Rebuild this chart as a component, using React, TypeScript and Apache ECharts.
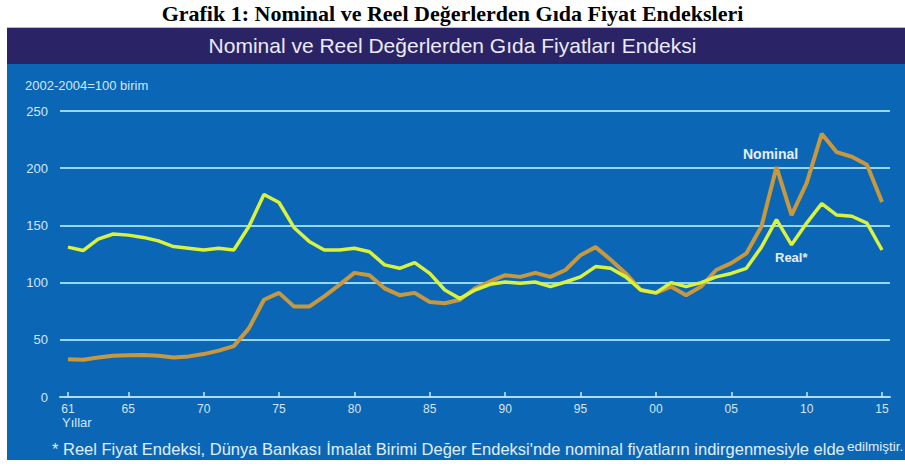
import React, { useEffect, useRef } from "react";
import * as echarts from "echarts";

const years: number[] = [];
for (let y = 1961; y <= 2015; y++) years.push(y);

const nominal = [
  33, 32.5, 34.5, 36, 36.5, 36.7, 36, 34.5, 35.5, 37.5, 40.5, 44.5, 60, 85, 91, 79,
  79, 88, 98, 108.5, 106.5, 95, 89, 91, 83, 82, 85, 95, 101, 106.5, 105, 108.5,
  105, 111, 124, 131, 120, 108, 93.5, 91, 96.5, 89, 96.5, 111, 117, 125.5, 149,
  201, 159, 187, 230, 214, 210, 203, 170.5,
];

const real = [
  131, 128, 138, 142.5, 141.5, 139.5, 136.5, 131.5, 130, 128.5, 130, 128.5, 149,
  177, 170, 148, 136, 128.5, 128.5, 130, 127, 115.5, 112.5, 117.5, 108, 93.5, 86,
  93.5, 98.5, 100.5, 99.5, 100.5, 96.5, 100.5, 105, 114, 112.5, 105, 93.5, 91, 100,
  96.5, 100, 105, 108, 112.5, 131, 155, 133, 152, 169, 159, 158, 152, 128.5,
];

const xTicks = [1961, 1965, 1970, 1975, 1980, 1985, 1990, 1995, 2000, 2005, 2010, 2015];
const yTicks = [0, 50, 100, 150, 200, 250];

const pageTitle = "Grafik 1: Nominal ve Reel Değerlerden Gıda Fiyat Endeksleri";
const panelTitle = "Nominal ve Reel Değerlerden Gıda Fiyatları Endeksi";
const unitLabel = "2002-2004=100 birim";
const xName = "Yıllar";
const footnoteMain = "* Reel Fiyat Endeksi, Dünya Bankası İmalat Birimi Değer Endeksi'nde nominal fiyatların indirgenmesiyle elde";
const footnoteEnd = "edilmiştir.";

export default function App() {
  const ref = useRef<HTMLDivElement>(null);
  useEffect(() => {
    if (!ref.current) return;
    const chart = echarts.init(ref.current, null, { renderer: "svg" });
    const lab = "#d3e6f6";
    const fam = "'Liberation Sans', Arial, sans-serif";
    chart.setOption({
      animation: false,
      backgroundColor: "#ffffff",
      graphic: [
        {
          type: "text",
          left: "center",
          top: 2,
          style: {
            text: pageTitle,
            font: "bold 22px 'Liberation Serif', 'Times New Roman', serif",
            fill: "#000000",
          },
        },
        { type: "rect", shape: { x: 7, y: 27, width: 898, height: 1 }, style: { fill: "#b9b2e2" }, z: -10 },
        { type: "rect", shape: { x: 7, y: 28, width: 898, height: 36 }, style: { fill: "#2a2466" }, z: -10 },
        { type: "rect", shape: { x: 7, y: 64, width: 898, height: 396 }, style: { fill: "#0b67b6" }, z: -10 },
        {
          type: "text",
          left: "center",
          top: 35,
          style: {
            text: panelTitle,
            font: "21px " + fam,
            fill: "#eceaf8",
          },
        },
        {
          type: "text",
          x: 25,
          y: 79,
          style: { text: unitLabel, font: "13px " + fam, fill: lab },
        },
        {
          type: "text",
          x: 62,
          y: 416,
          style: { text: xName, font: "13px " + fam, fill: lab },
        },
        {
          type: "text",
          x: 52,
          y: 440,
          style: { text: footnoteMain, font: "16.5px " + fam, fill: "#e2eefa" },
        },
        {
          type: "text",
          x: 847,
          y: 439,
          style: { text: footnoteEnd, font: "13.5px " + fam, fill: "#e2eefa" },
        },
        {
          type: "text",
          x: 743,
          y: 147,
          style: { text: "Nominal", font: "bold 14px " + fam, fill: "#e6eefa" },
        },
        {
          type: "text",
          x: 775,
          y: 251,
          style: { text: "Real*", font: "bold 13px " + fam, fill: "#e6eefa" },
        },
      ],
      grid: { left: 60, right: 15, top: 111, bottom: 69, containLabel: false },
      xAxis: {
        type: "value",
        min: 1960.47,
        max: 2015.53,
        splitLine: { show: false },
        axisLine: { show: true, lineStyle: { color: "#a9def4", width: 2 } },
        axisTick: {
          show: true,
          inside: true,
          length: 5,
          customValues: xTicks,
          lineStyle: { color: "#c9e9f6", width: 1.5 },
        },
        axisLabel: {
          customValues: xTicks,
          color: lab,
          fontSize: 12,
          fontFamily: fam,
          margin: 6,
          formatter: (v: number) => String(Math.round(v) % 100).padStart(2, "0"),
        },
      },
      yAxis: {
        type: "value",
        min: 0,
        max: 250,
        interval: 50,
        axisLine: { show: false },
        axisTick: { show: false },
        axisLabel: {
          color: lab,
          fontSize: 13,
          fontFamily: fam,
          margin: 12,
        },
        splitLine: { show: true, lineStyle: { color: "#94d8f4", width: 2 } },
      },
      series: [
        {
          type: "line",
          name: "Nominal",
          data: years.map((y, i) => [y, nominal[i]]),
          showSymbol: false,
          lineStyle: { color: "#c8983e", width: 4 },
          z: 3,
        },
        {
          type: "line",
          name: "Real",
          data: years.map((y, i) => [y, real[i]]),
          showSymbol: false,
          lineStyle: { color: "#d9f23e", width: 3.5 },
          z: 4,
        },
      ],
    });
    return () => chart.dispose();
  }, []);
  return (
    <div
      ref={ref}
      style={{ position: "absolute", left: 0, top: 0, width: 905, height: 466 }}
    />
  );
}
